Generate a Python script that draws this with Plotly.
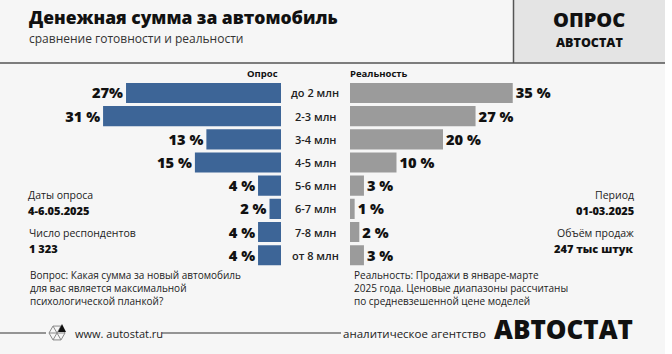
import math
import plotly.graph_objects as go

W, H = 672, 354

categories = ["до 2 млн", "2-3 млн", "3-4 млн", "4-5 млн", "5-6 млн", "6-7 млн", "7-8 млн", "от 8 млн"]
survey = [27, 31, 13, 15, 4, 2, 4, 4]
survey_labels = ["27%", "31 %", "13 %", "15 %", "4 %", "2 %", "4 %", "4 %"]
reality = [35, 27, 20, 10, 3, 1, 2, 3]
reality_labels = ["35 %", "27 %", "20 %", "10 %", "3 %", "1 %", "2 %", "3 %"]

BLUE = "#3d6597"
GRAY = "#9b9b9b"
FONT = "Open Sans"


def px(x):
    return x / W


def py(y):
    return 1 - y / H


ypos = list(range(len(categories)))

fig = go.Figure()
fig.add_trace(go.Bar(
    x=survey, y=ypos, orientation="h", marker=dict(color=BLUE, line=dict(width=0)),
    text=survey_labels, textposition="outside", cliponaxis=False,
    textfont=dict(family=FONT, size=16, color="#111", weight=800),
    xaxis="x", yaxis="y", hoverinfo="skip", showlegend=False,
))
fig.add_trace(go.Bar(
    x=reality, y=ypos, orientation="h", marker=dict(color=GRAY, line=dict(width=0)),
    text=reality_labels, textposition="outside", cliponaxis=False,
    textfont=dict(family=FONT, size=16, color="#111", weight=800),
    xaxis="x2", yaxis="y2", hoverinfo="skip", showlegend=False,
))

ydom = [py(266.8), py(81.4)]
fig.update_layout(
    width=W, height=H, margin=dict(l=0, r=0, t=0, b=0),
    paper_bgcolor="white", plot_bgcolor="rgba(0,0,0,0)",
    bargap=0.13,
    xaxis=dict(domain=[px(60), px(281)], range=[221 / 5.74, 0], visible=False, fixedrange=True),
    xaxis2=dict(domain=[px(350), px(600)], range=[0, 250 / 4.65], visible=False, fixedrange=True),
    yaxis=dict(domain=ydom, range=[7.5, -0.5], visible=False, anchor="x"),
    yaxis2=dict(domain=ydom, range=[7.5, -0.5], visible=False, anchor="x2"),
    font=dict(family=FONT, color="#222"),
)

shapes = []
shapes.append(dict(type="rect", xref="paper", yref="paper", x0=0, x1=px(665), y0=0, y1=1,
                   fillcolor="#f6f6f6", line=dict(width=0), layer="below"))
shapes.append(dict(type="rect", xref="paper", yref="paper", x0=px(513.5), x1=px(665), y0=py(63), y1=1,
                   fillcolor="#e4e4e4", line=dict(width=0), layer="below"))
shapes.append(dict(type="line", xref="paper", yref="paper", x0=px(513.5), x1=px(513.5), y0=py(63), y1=1,
                   line=dict(color="#555", width=1.5)))
shapes.append(dict(type="line", xref="paper", yref="paper", x0=0, x1=px(665), y0=py(63), y1=py(63),
                   line=dict(color="#555", width=1.5)))
shapes.append(dict(type="line", xref="paper", yref="paper", x0=0, x1=px(46), y0=py(333), y1=py(333),
                   line=dict(color="#333", width=1)))
shapes.append(dict(type="line", xref="paper", yref="paper", x0=px(162), x1=px(341), y0=py(333), y1=py(333),
                   line=dict(color="#333", width=1)))
cx, cy, r = 57, 333, 8
pts = [(cx + r * math.cos(math.radians(a)), cy - r * math.sin(math.radians(a))) for a in range(0, 360, 60)]
path = "M " + " L ".join(f"{px(x)},{py(y)}" for x, y in pts) + " Z"
shapes.append(dict(type="path", xref="paper", yref="paper", path=path, line=dict(color="#888", width=1)))
for a in (0, 60, 120):
    x0 = cx + r * math.cos(math.radians(a)); y0 = cy - r * math.sin(math.radians(a))
    x1 = cx - r * math.cos(math.radians(a)); y1 = cy + r * math.sin(math.radians(a))
    shapes.append(dict(type="line", xref="paper", yref="paper", x0=px(x0), y0=py(y0), x1=px(x1), y1=py(y1),
                       line=dict(color="#888", width=1)))
tri = [(cx + 1, cy - 1), (cx + 5, cy - 9), (cx + 9, cy - 1)]
tpath = "M " + " L ".join(f"{px(x)},{py(y)}" for x, y in tri) + " Z"
shapes.append(dict(type="path", xref="paper", yref="paper", path=tpath, fillcolor="#111", line=dict(width=0)))
fig.update_layout(shapes=shapes)

ann = []


def text(x, y, s, size, color="#222", xanchor="left", weight=400):
    ann.append(dict(x=px(x), y=py(y), xref="paper", yref="paper", text=s, showarrow=False,
                    xanchor=xanchor, yanchor="middle", align=xanchor if xanchor != "center" else "center",
                    font=dict(family=FONT, size=size, color=color, weight=weight)))


text(27, 17, "Денежная сумма за автомобиль", 17.5, color="#111", weight=800)
text(27, 38, "сравнение готовности и реальности", 12, color="#333")
text(589, 19, "ОПРОС", 20, color="#111", xanchor="center", weight=800)
text(589, 42, "АВТОСТАТ", 12.5, color="#111", xanchor="center", weight=800)

text(262, 73, "Опрос", 9.5, color="#111", xanchor="center", weight=700)
text(379, 73, "Реальность", 9.5, color="#111", xanchor="center", weight=700)

for i, c in enumerate(categories):
    ann.append(dict(x=px(315), y=i, xref="paper", yref="y", text=c, showarrow=False,
                    xanchor="center", yanchor="middle",
                    font=dict(family=FONT, size=11, color="#222", weight=600)))

text(26, 195, "Даты опроса", 10.5, color="#222")
text(26, 210, "4-6.05.2025", 11, color="#111", weight=800)
text(27, 233, "Число респондентов", 10.5, color="#222")
text(27, 248, "1 323", 11, color="#111", weight=800)

text(636, 195, "Период", 10.5, color="#222", xanchor="right")
text(636, 210, "01-03.2025", 11, color="#111", xanchor="right", weight=800)
text(636, 233, "Объём продаж", 10.5, color="#222", xanchor="right")
text(636, 248, "247 тыс штук", 11, color="#111", xanchor="right", weight=800)

ann.append(dict(x=px(28), y=py(288), xref="paper", yref="paper", showarrow=False, xanchor="left",
                yanchor="middle", align="left",
                text="Вопрос: Какая сумма за новый автомобиль<br>для вас является максимальной<br>психологической планкой?",
                font=dict(family=FONT, size=10, color="#222")))
ann.append(dict(x=px(352), y=py(288), xref="paper", yref="paper", showarrow=False, xanchor="left",
                yanchor="middle", align="left",
                text="Реальность: Продажи в январе-марте<br>2025 года. Ценовые диапазоны рассчитаны<br>по средневзешенной цене моделей",
                font=dict(family=FONT, size=10, color="#222")))

text(73, 333, "www. autostat.ru", 11, color="#222")
text(488, 333, "аналитическое агентство", 11.5, color="#222", xanchor="right")
text(492, 329, "АВТОСТАТ", 26, color="#111", weight=800)

fig.update_layout(annotations=ann)
fig.write_html("out.html")
